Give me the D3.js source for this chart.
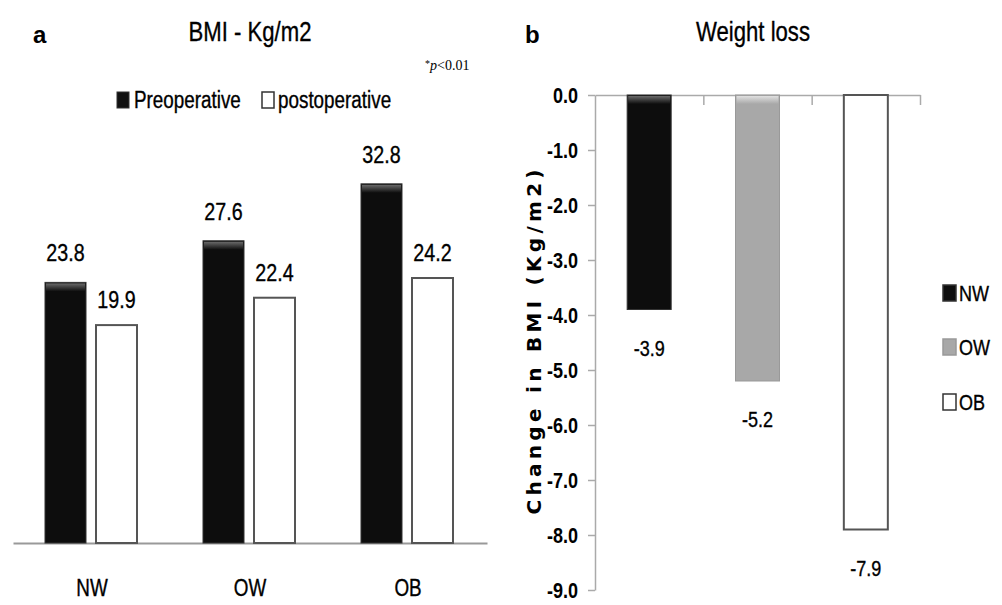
<!DOCTYPE html>
<html>
<head>
<meta charset="utf-8">
<script src="https://cdn.jsdelivr.net/npm/d3@7"></script>
<style>
  body { margin: 0; background: #fff; }
  svg { display: block; }
  text { font-family: "Liberation Sans", Arial, sans-serif; }
  .heavy { stroke: #000; stroke-width: 0.35px; }
</style>
</head>
<body>
<script>
// panel a data
var groups = ["NW", "OW", "OB"];
var preop = [23.8, 27.6, 32.8];
var postop = [19.9, 22.4, 24.2];
// panel b data
var change = [-3.9, -5.2, -7.9];
var changeTicks = [0, -1, -2, -3, -4, -5, -6, -7, -8, -9];

var w = 1002, h = 605;
var NARROW = 0.82; // Liberation Sans squeezed = Arial Narrow look

var svg = d3.select("body").append("svg")
    .attr("width", w)
    .attr("height", h);

// narrow text helper, positions via transform so the squeeze keeps the anchor
function ntext(x, y, str, size, anchor, weight) {
    return svg.append("text")
        .attr("class", "heavy")
        .attr("transform", "translate(" + x + "," + y + ") scale(" + NARROW + ",1)")
        .attr("text-anchor", anchor || "start")
        .style("font-size", size + "px")
        .style("font-weight", weight || "normal")
        .text(str);
}

var defs = svg.append("defs");
function capGrad(id, c1, c2) {
    var g = defs.append("linearGradient").attr("id", id)
        .attr("x1", 0).attr("y1", 0).attr("x2", 0).attr("y2", 1);
    g.append("stop").attr("offset", "0%").attr("stop-color", c1);
    g.append("stop").attr("offset", "100%").attr("stop-color", c2);
}
capGrad("capDark", "#6a6a6a", "#0d0d0d");
capGrad("capGrey", "#e0e0e0", "#a8a8a8");

// ---------- panel a ----------
var xa = d3.scaleBand().domain(groups).range([13, 487]);
var ya = d3.scaleLinear().domain([0, 35]).range([543, 543 - 35 * 10.95]);
var barW = 41, gap = 10, off = 32;

svg.append("text").attr("x", 33).attr("y", 43)
    .style("font-weight", "bold").style("font-size", "24px")
    .text("a");

ntext(250, 41, "BMI - Kg/m2", 27, "middle");

var pt = svg.append("text").attr("x", 425).attr("y", 70)
    .style("font-family", "Liberation Serif, serif").style("font-size", "14px");
pt.append("tspan").attr("dy", -3).style("font-size", "10px").text("*");
pt.append("tspan").attr("dy", 3).style("font-style", "italic").text("p");
pt.append("tspan").text("<0.01");

// legend a
svg.append("rect").attr("x", 117).attr("y", 92).attr("width", 12).attr("height", 16)
    .attr("fill", "#111").attr("stroke", "#333");
ntext(134, 108, "Preoperative", 23);
svg.append("rect").attr("x", 262).attr("y", 92).attr("width", 12).attr("height", 16)
    .attr("fill", "#fff").attr("stroke", "#333").attr("stroke-width", 1.5);
ntext(278, 108, "postoperative", 23);

// baseline + category labels
var axA = svg.append("g").attr("transform", "translate(0,543)")
    .call(d3.axisBottom(xa).tickSize(0).tickPadding(37));
axA.select(".domain").attr("stroke", "#999").attr("stroke-width", 2);
axA.selectAll("text")
    .attr("class", "heavy")
    .attr("transform", "scale(" + NARROW + ",1)")
    .style("font-size", "23px").attr("fill", "#000");

// preop bars
svg.selectAll(".pre").data(preop).enter().append("rect")
    .attr("class", "pre")
    .attr("x", function(d, i) { return xa(groups[i]) + off; })
    .attr("y", function(d) { return ya(d); })
    .attr("width", barW)
    .attr("height", function(d) { return ya(0) - ya(d); })
    .attr("fill", "#0d0d0d").attr("stroke", "#333");
svg.selectAll(".precap").data(preop).enter().append("rect")
    .attr("x", function(d, i) { return xa(groups[i]) + off + 1; })
    .attr("y", function(d) { return ya(d) + 1; })
    .attr("width", barW - 2).attr("height", 8)
    .attr("fill", "url(#capDark)");

// postop bars
svg.selectAll(".post").data(postop).enter().append("rect")
    .attr("class", "post")
    .attr("x", function(d, i) { return xa(groups[i]) + off + barW + gap; })
    .attr("y", function(d) { return ya(d); })
    .attr("width", barW)
    .attr("height", function(d) { return ya(0) - ya(d); })
    .attr("fill", "#fff").attr("stroke", "#555").attr("stroke-width", 2);

preop.forEach(function(d, i) {
    ntext(xa(groups[i]) + off + barW / 2, ya(d) - 21, d.toFixed(1), 24, "middle");
});
postop.forEach(function(d, i) {
    ntext(xa(groups[i]) + off + barW + gap + barW / 2, ya(d) - 17, d.toFixed(1), 24, "middle");
});

// ---------- panel b ----------
var xb = d3.scaleBand().domain(groups).range([595, 920]);
var xl = d3.scaleLinear().domain([0, 3]).range([595, 920]);
var yb = d3.scaleLinear().domain([0, -9]).range([95, 590]);
var bw = 44;
var fills = ["#0d0d0d", "#a8a8a8", "#fff"];
var strokes = ["#333", "#999", "#555"];

svg.append("text").attr("x", 525).attr("y", 43)
    .style("font-weight", "bold").style("font-size", "24px")
    .text("b");
ntext(753, 41, "Weight loss", 27, "middle");

var axY = svg.append("g").attr("transform", "translate(595,0)")
    .call(d3.axisLeft(yb).tickValues(changeTicks).tickSize(7).tickSizeOuter(0).tickPadding(10)
        .tickFormat(function(d) { return d.toFixed(1); }));
axY.select(".domain").attr("stroke", "#aaa").attr("stroke-width", 1.5);
axY.selectAll("line").attr("stroke", "#aaa").attr("stroke-width", 1.5);
axY.selectAll("text")
    .attr("x", -17 / NARROW)
    .attr("transform", "scale(" + NARROW + ",1)")
    .style("font-size", "22px").style("font-weight", "bold").attr("fill", "#000");

var axX = svg.append("g").attr("transform", "translate(0,95)")
    .call(d3.axisBottom(xl).tickValues([1, 2, 3]).tickSize(10).tickSizeOuter(0).tickFormat(""));
axX.select(".domain").attr("stroke", "#aaa").attr("stroke-width", 1.5);
axX.selectAll("line").attr("stroke", "#aaa").attr("stroke-width", 1.5);

svg.selectAll(".chg").data(change).enter().append("rect")
    .attr("class", "chg")
    .attr("x", function(d, i) { return xb(groups[i]) + (xb.bandwidth() - bw) / 2; })
    .attr("y", yb(0))
    .attr("width", bw)
    .attr("height", function(d) { return yb(d) - yb(0); })
    .attr("fill", function(d, i) { return fills[i]; })
    .attr("stroke", function(d, i) { return strokes[i]; })
    .attr("stroke-width", function(d, i) { return i == 2 ? 2 : 1; });
svg.selectAll(".chgcap").data(change.slice(0, 2)).enter().append("rect")
    .attr("x", function(d, i) { return xb(groups[i]) + (xb.bandwidth() - bw) / 2 + 1; })
    .attr("y", yb(0) + 1)
    .attr("width", bw - 2).attr("height", 8)
    .attr("fill", function(d, i) { return i == 0 ? "url(#capDark)" : "url(#capGrey)"; });

change.forEach(function(d, i) {
    ntext(xb(groups[i]) + xb.bandwidth() / 2, yb(d) + 46, d.toFixed(1), 22, "middle");
});

svg.append("text")
    .attr("transform", "translate(541,342) rotate(-90)")
    .attr("text-anchor", "middle")
    .attr("textLength", 345).attr("lengthAdjust", "spacing")
    .style("font-family", "DejaVu Sans, Verdana, sans-serif")
    .style("font-weight", "bold").style("font-size", "20px")
    .text("Change in BMI (Kg/m2)");

// legend b
var legY = [293, 347, 402];
svg.selectAll(".legb").data(groups).enter().append("rect")
    .attr("x", 943)
    .attr("y", function(d, i) { return legY[i] - 8; })
    .attr("width", 13).attr("height", 16)
    .attr("fill", function(d, i) { return fills[i]; })
    .attr("stroke", function(d, i) { return i == 1 ? "#999" : "#333"; })
    .attr("stroke-width", 1.5);
groups.forEach(function(d, i) {
    ntext(959, legY[i] + 8, d, 22);
});
</script>
</body>
</html>
